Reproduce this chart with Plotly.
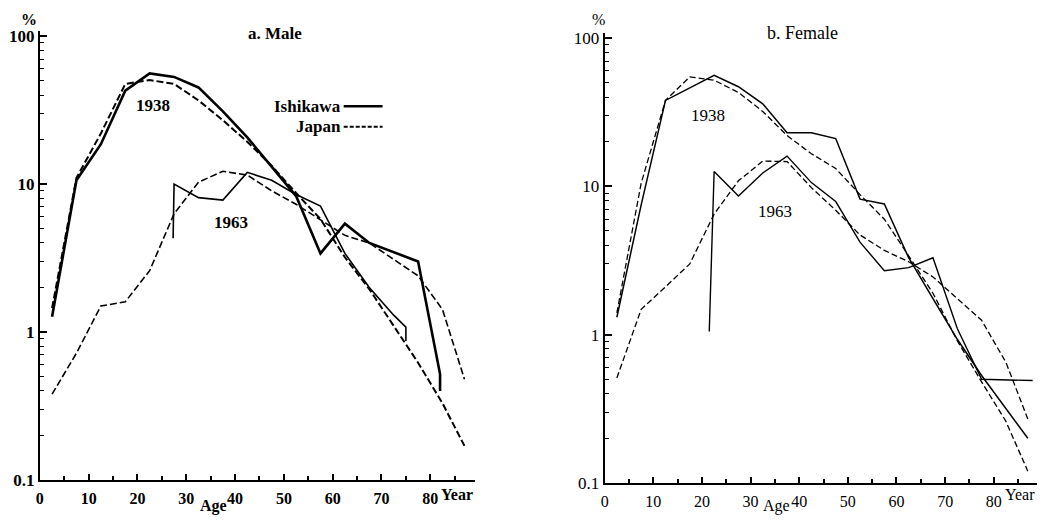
import plotly.graph_objects as go

# ---------------- data ----------------
ages_std = [2.5, 7.5, 12.5, 17.5, 22.5, 27.5, 32.5, 37.5, 42.5, 47.5,
            52.5, 57.5, 62.5, 67.5, 72.5, 77.5, 82.5, 87]

# a. Male
m_ish_1938_age = [2.5, 7.5, 12.5, 17.5, 22.5, 27.5, 32.5, 37.5, 42.5, 47.5,
                  52.5, 57.5, 62.5, 67.5, 72.5, 77.5, 82, 82]
m_ish_1938 = [1.27, 10.6, 18.6, 42.8, 56, 53, 45, 31, 20.7, 13,
              8.3, 3.4, 5.4, 4.0, 3.45, 3.0, 0.52, 0.40]
m_jap_1938 = [1.45, 11, 22, 47.5, 50.5, 47.5, 36.8, 27, 19.3, 13.3,
              8.7, 5.8, 3.2, 1.95, 1.1, 0.62, 0.33, 0.17]
m_ish_1963_age = [27.3, 27.5, 32.5, 37.5, 42.5, 47.5, 52.5, 57.5, 62.5,
                  67.5, 72.5, 75, 75]
m_ish_1963 = [4.3, 10.0, 8.1, 7.8, 12.0, 10.6, 8.5, 7.1, 3.4, 2.0, 1.3, 1.08, 0.87]
m_jap_1963 = [0.38, 0.72, 1.5, 1.6, 2.6, 6.3, 10.3, 12.2, 11.5, 9.0,
              7.3, 5.7, 4.5, 4.0, 3.1, 2.4, 1.42, 0.48]

# b. Female
f_ish_1938 = [1.31, 7.5, 38, 46, 56, 47, 36, 23, 23, 21,
              8.2, 7.6, 3.3, 1.75, 0.93, 0.53, 0.32, 0.20]
f_jap_1938 = [1.4, 10.5, 38, 54.7, 52, 43, 32, 22, 16.6, 13.2,
              8.8, 6.0, 3.4, 1.9, 0.91, 0.48, 0.26, 0.12]
f_ish_1963_age = [21.5, 22.5, 27.5, 32.5, 37.5, 42.5, 47.5, 52.5, 57.5,
                  62.5, 67.5, 72.5, 77.5, 88]
f_ish_1963 = [1.05, 12.6, 8.6, 12.3, 16.0, 10.6, 7.9, 4.2, 2.7, 2.83, 3.3, 1.1, 0.50, 0.49]
f_jap_1963 = [0.51, 1.48, 2.1, 3.0, 6.5, 10.9, 14.8, 14.7, 9.8, 6.9,
              4.7, 3.7, 3.1, 2.45, 1.75, 1.25, 0.65, 0.27]

x_ticks = [0, 10, 20, 30, 40, 50, 60, 70, 80]
x_minor = [5, 15, 25, 35, 45, 55, 65, 75, 85]
y_ticks = [0.1, 1, 10, 100]
y_ticktext = ["0.1", "1", "10", "100"]
y_minor = [0.2, 0.3, 0.4, 0.5, 0.6, 0.7, 0.8, 0.9,
           2, 3, 4, 5, 6, 7, 8, 9, 20, 30, 40, 50, 60, 70, 80, 90]

# ---------------- figure ----------------
W, H = 1048, 525
SERIF = "Liberation Serif"
fig = go.Figure()


def add(x, y, xa, ya, dash, width):
    fig.add_trace(go.Scatter(x=x, y=y, mode="lines", xaxis=xa, yaxis=ya,
                             line=dict(color="black", width=width, dash=dash),
                             showlegend=False, hoverinfo="skip"))


# Male panel
add(m_ish_1938_age, m_ish_1938, "x", "y", "solid", 2.6)
add(ages_std, m_jap_1938, "x", "y", "7px,3px", 2.0)
add(m_ish_1963_age, m_ish_1963, "x", "y", "solid", 1.6)
add(ages_std, m_jap_1963, "x", "y", "7px,3px", 1.6)
# Female panel
add(ages_std, f_ish_1938, "x2", "y2", "solid", 1.5)
add(ages_std, f_jap_1938, "x2", "y2", "6px,3px", 1.3)
add(f_ish_1963_age, f_ish_1963, "x2", "y2", "solid", 1.4)
add(ages_std, f_jap_1963, "x2", "y2", "6px,3px", 1.3)


def xax(domain, rng, anchor, bold):
    return dict(domain=domain, range=rng, anchor=anchor, showline=True, linewidth=2,
                linecolor="black", mirror=False, showgrid=False, zeroline=False,
                ticks="inside", ticklen=6, tickwidth=1.5, tickcolor="black",
                tickvals=x_ticks, ticklabelstandoff=3,
                minor=dict(tickvals=x_minor, ticks="inside", ticklen=4, tickwidth=1.5,
                           tickcolor="black"),
                tickfont=dict(family=SERIF, size=16, color="black",
                              weight="bold" if bold else "normal"))


def yax(domain, rng, anchor, bold):
    return dict(type="log", domain=domain, range=rng, anchor=anchor, showline=True,
                linewidth=2, linecolor="black", showgrid=False, zeroline=False,
                ticks="inside", ticklen=7, tickwidth=1.8, tickcolor="black",
                tickvals=y_ticks, ticktext=y_ticktext,
                minor=dict(tickvals=y_minor, ticks="inside", ticklen=4, tickwidth=1.3,
                           tickcolor="black"),
                tickfont=dict(family=SERIF, size=17, color="black",
                              weight="bold" if bold else "normal"))


fig.update_layout(
    width=W, height=H, margin=dict(l=0, r=0, t=0, b=0),
    paper_bgcolor="white", plot_bgcolor="white", showlegend=False,
    xaxis=xax([36 / W, 473 / W], [0, 89.2], "y", True),
    yaxis=yax([(H - 489) / H, (H - 28) / H], [-1, 2.033], "x", True),
    xaxis2=xax([603 / W, 1037 / W], [0, 88.9], "y2", False),
    yaxis2=yax([(H - 492) / H, (H - 30) / H], [-1, 2.033], "x2", False),
)


def px(x, y):
    return x / W, 1 - y / H


def text(x, y, s, size=15, bold=True, xanchor="center"):
    xp, yp = px(x, y)
    fig.add_annotation(x=xp, y=yp, xref="paper", yref="paper", text=s, showarrow=False,
                       xanchor=xanchor, yanchor="middle",
                       font=dict(family=SERIF, size=size, color="black",
                                 weight="bold" if bold else "normal"))


# Male panel texts
text(272, 30, "a. Male", 17, True)
text(25, 16, "%", 16, True)
text(150, 104, "1938", 17, True)
text(228, 224, "1963", 17, True)
text(340, 105, "Ishikawa", 17, True, "right")
text(340, 126, "Japan", 17, True, "right")
text(455, 504, "Year", 16, True)
text(210, 516, "Age", 16, True)
# legend keys
fig.add_shape(type="line", xref="paper", yref="paper",
              x0=341 / W, x1=380 / W, y0=1 - 105 / H, y1=1 - 105 / H,
              line=dict(color="black", width=2.6))
fig.add_shape(type="line", xref="paper", yref="paper",
              x0=341 / W, x1=380 / W, y0=1 - 126 / H, y1=1 - 126 / H,
              line=dict(color="black", width=2.0, dash="4px,2px"))

# Female panel texts
text(802, 30, "b. Female", 18, False)
text(597, 16, "%", 16, False)
text(707, 115, "1938", 17, False)
text(774, 213, "1963", 17, False)
text(1020, 504, "Year", 16, False)
text(775, 516, "Age", 16, False)

fig.write_html("out.html")
